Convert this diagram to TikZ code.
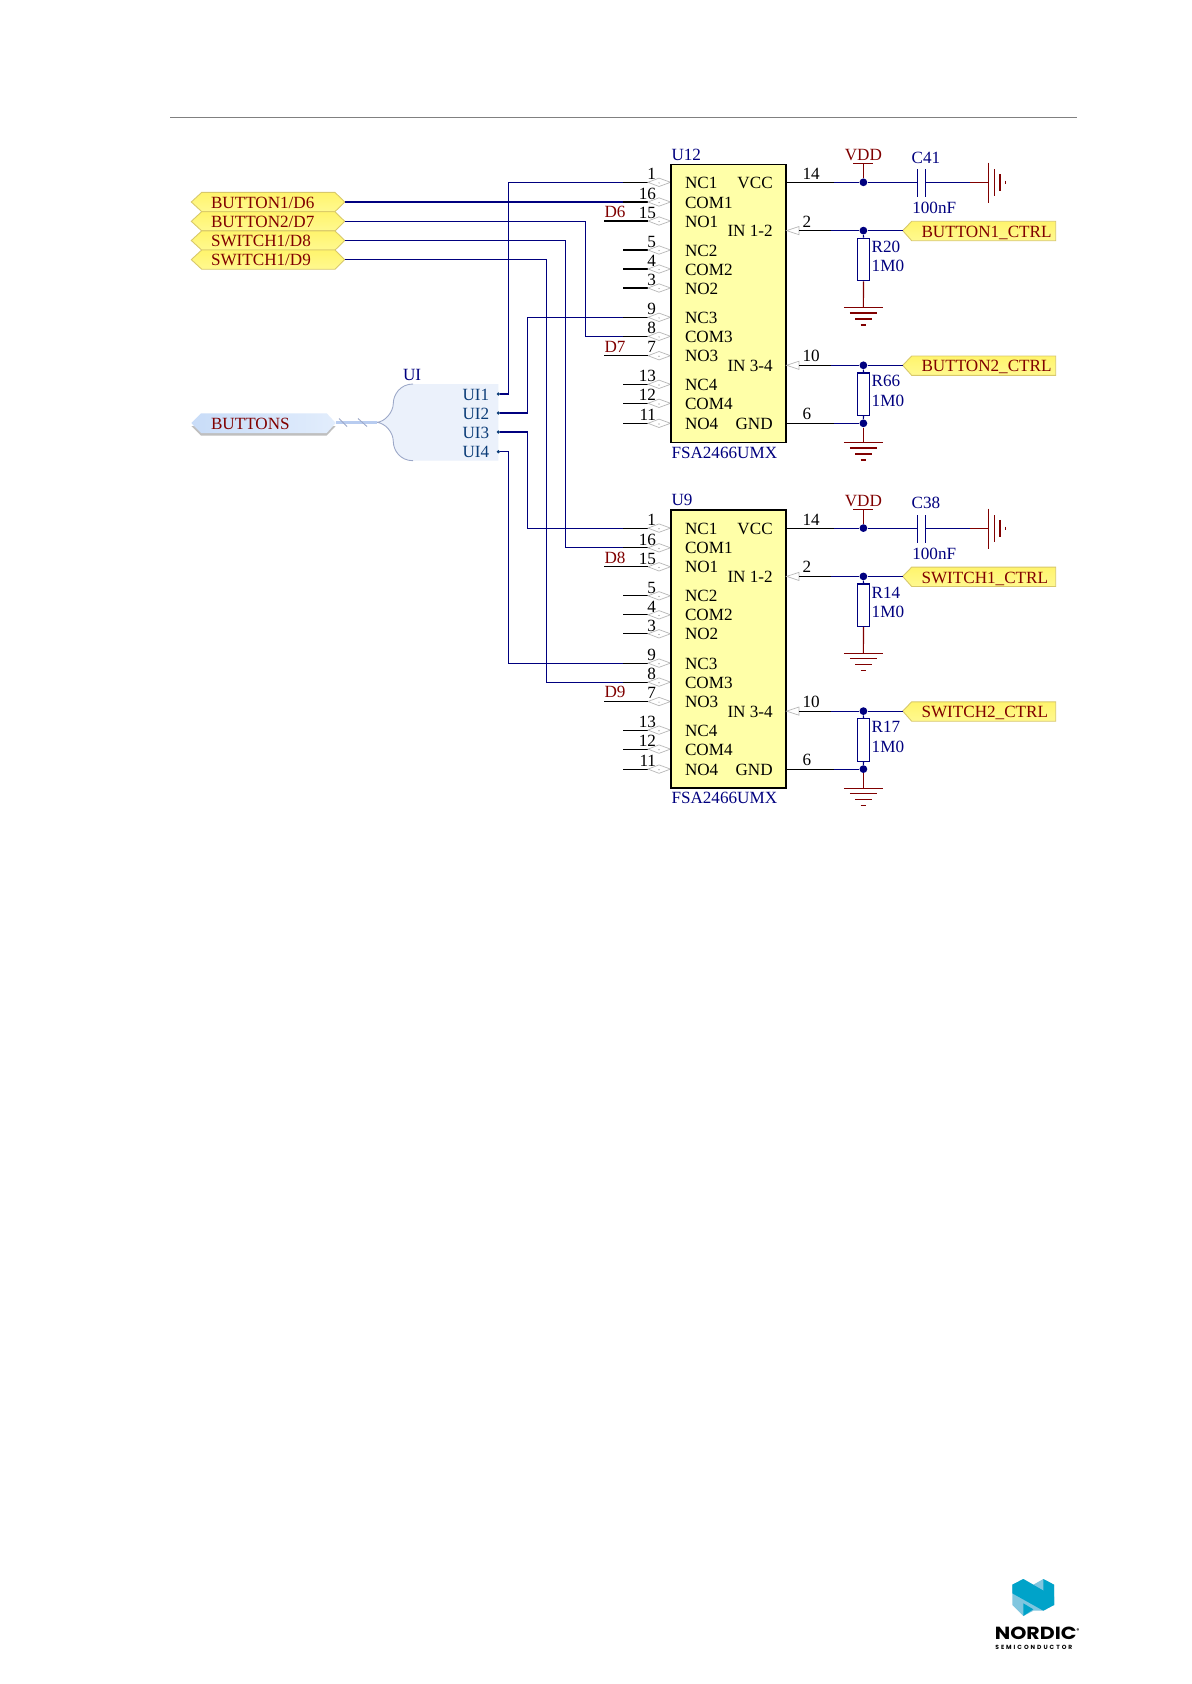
\documentclass[tikz,border=0pt]{standalone}
\usepackage{fontspec}
\setmainfont{Liberation Serif}
\newfontfamily\logofont{Poppins}
\usetikzlibrary{calc}
\definecolor{wirenavy}{HTML}{00007F}
\definecolor{darkred}{HTML}{800000}
\definecolor{chipfill}{HTML}{FFFFA8}
\definecolor{portedge}{HTML}{D8C86A}
\definecolor{porttop}{HTML}{FFF46C}
\definecolor{portbot}{HTML}{FFF990}
\definecolor{pingrey}{HTML}{B8B8B8}
\definecolor{sheettext}{HTML}{0B3C78}
\definecolor{sheetfill}{HTML}{EBF1FB}
\definecolor{sheetedge}{HTML}{9CA8C8}
\definecolor{busblue}{HTML}{B8CCF0}
\definecolor{portblueA}{HTML}{C8DCF8}
\definecolor{portblueB}{HTML}{E2EDFC}
\definecolor{logodark}{HTML}{00A3C9}
\definecolor{logolight}{HTML}{80C6DF}
\tikzset{
  x=0.02cm,y=-0.02cm,
  wire/.style={draw=wirenavy,line width=0.65pt},
  stub/.style={draw=black,line width=0.65pt},
  redline/.style={draw=darkred,line width=0.65pt},
  txt/.style={inner sep=0pt,outer sep=0pt,anchor=base west,font=\fontsize{9.75pt}{11pt}\selectfont},
  txtr/.style={txt,anchor=base east},
  pinno/.style={txt,anchor=base east,text=black},
  desig/.style={txt,text=wirenavy},
  redtxt/.style={txt,text=darkred},
  chipbox/.style={draw=black,fill=chipfill,line width=0.8pt,minimum width=2.3cm,minimum height=5.56cm,inner sep=0pt},
  junction/.style={circle,fill=wirenavy,minimum size=0.155cm,inner sep=0pt},
  resbox/.style={draw=wirenavy,fill=white,line width=0.7pt,minimum width=0.25cm,minimum height=0.85cm,inner sep=0pt},
  portshape/.style={draw=portedge,line width=0.5pt,top color=porttop,bottom color=portbot},
  pinmark/.style={draw=pingrey,line width=0.4pt,fill=white},
}
% ground: name, x, y
\newcommand{\gndsym}[3]{%
  \coordinate (#1) at (#2,#3);
  \draw[redline] ($(#1)+(-19.5,0)$) -- ($(#1)+(19.5,0)$);
  \draw[redline] ($(#1)+(-13.5,5.7)$) -- ($(#1)+(13.5,5.7)$);
  \draw[redline] ($(#1)+(-8.2,11.7)$) -- ($(#1)+(8.2,11.7)$);
  \draw[redline] ($(#1)+(-2.7,17.7)$) -- ($(#1)+(2.7,17.7)$);
}
% left yellow port: name, y, text
\newcommand{\leftport}[3]{%
  \path[portshape] (191.3,#2) -- (201.7,#2-9.6) -- (335,#2-9.6) -- (344.7,#2) -- (335,#2+9.6) -- (201.7,#2+9.6) -- cycle;
  \coordinate (#1) at (344.7,#2);
  \node[redtxt] (#1-t) at (211,#2+6) {#3};
}
% right yellow port: name, y, text
\newcommand{\ctrlport}[3]{%
  \path[portshape] (902.7,#2) -- (911.7,#2-9.3) -- (1055.7,#2-9.3) -- (1055.7,#2+10.1) -- (911.7,#2+10.1) -- cycle;
  \coordinate (#1) at (902.7,#2);
  \node[redtxt] (#1-t) at (921.5,#2+6.6) {#3};
}
% chip: 1 name, 2 offset, 3 D-label A, 4 D-label B, 5 cap, 6 res A, 7 res B, 8 port A, 9 port B
\newcommand{\chip}[9]{%
\begin{scope}[shift={(0,#2)}]
  \foreach \pn/\pt/\py in {1/NC1/182.3,16/COM1/202,15/NO1/221,5/NC2/250,4/COM2/269,3/NO2/288,9/NC3/317.3,8/COM3/336.3,7/NO3/355.7,13/NC4/384.3,12/COM4/403.3,11/NO4/423.3}{
    \coordinate (#1-s\pn) at (648,\py);
    \coordinate (#1-b\pn) at (623,\py);
    \draw[stub] (#1-b\pn) -- (#1-s\pn);
    \path[pinmark] (648,\py) -- (659,\py-4.2) -- (670.5,\py) -- (659,\py+4.2) -- cycle;
    \fill[gray] (659,\py+0.6) circle[radius=0.012cm];
    \node[pinno] (#1-n\pn) at (656,\py-2.8) {\pn};
  }
  \node[chipbox] (#1) at (728.6,303.3) {};
  \foreach \pn/\pt/\py in {1/NC1/182.3,16/COM1/202,15/NO1/221,5/NC2/250,4/COM2/269,3/NO2/288,9/NC3/317.3,8/COM3/336.3,7/NO3/355.7,13/NC4/384.3,12/COM4/403.3,11/NO4/423.3}{
    \node[txt] (#1-l\pn) at (685,\py+6) {\pt};
  }
  \node[txtr] (#1-vcc) at (772.7,188.3) {VCC};
  \node[txtr] (#1-in12) at (772.7,236.3) {IN 1-2};
  \node[txtr] (#1-in34) at (772.7,371.3) {IN 3-4};
  \node[txtr] (#1-gnd) at (772.7,429.3) {GND};
  \node[desig] (#1-name) at (671.5,160) {#1};
  \node[desig] (#1-part) at (671.5,458) {FSA2466UMX};
  % net labels
  \coordinate (#1-da) at (604,221);
  \coordinate (#1-db) at (604,355.7);
  \draw[stub] (#1-da) -- (#1-s15);
  \draw[stub] (#1-db) -- (#1-s7);
  \node[redtxt] (#1-dat) at (604.5,217.3) {#3};
  \node[redtxt] (#1-dbt) at (604.5,352) {#4};
  % right side pins
  \coordinate (#1-r14) at (786.3,182.3);
  \coordinate (#1-r6) at (786.3,423.3);
  \coordinate (#1-r2) at (799,230.6);
  \coordinate (#1-r10) at (799,365.3);
  \path[pinmark] (786.6,230.6) -- (799,226.5) -- (799,234.7) -- cycle;
  \path[pinmark] (786.6,365.3) -- (799,361.2) -- (799,369.4) -- cycle;
  \node[pinno,anchor=base west] (#1-n14) at (802.5,179.3) {14};
  \node[pinno,anchor=base west] (#1-n2) at (802.5,227) {2};
  \node[pinno,anchor=base west] (#1-n10) at (802.5,361.8) {10};
  \node[pinno,anchor=base west] (#1-n6) at (802.5,419.3) {6};
  % VDD and capacitor
  \node[junction] (#1-jv) at (863.4,182.3) {};
  \coordinate (#1-vddbar) at (863.4,163.3);
  \draw[redline] (853.4,163.3) -- (873.4,163.3);
  \draw[redline] (#1-vddbar) -- (#1-jv);
  \node[redtxt,anchor=base] (#1-vdd) at (863.4,160.3) {VDD};
  \coordinate (#1-c1) at (917.3,182.3);
  \coordinate (#1-c2) at (925.3,182.3);
  \coordinate (#1-e1) at (970,182.3);
  \coordinate (#1-e2) at (988.3,182.3);
  \draw[wire] (#1-r14) -- (#1-jv);
  \draw[stub] (#1-r14) -- ++(48,0);
  \draw[wire] (#1-jv) -- (#1-c1);
  \draw[wire,line width=0.8pt] (917.3,169.3) -- (917.3,196.7);
  \draw[wire,line width=0.8pt] (925.3,169.3) -- (925.3,196.7);
  \draw[wire] (#1-c2) -- (#1-e1);
  \draw[redline] (#1-e1) -- (#1-e2);
  \draw[redline] (988.3,162.7) -- (988.3,202.7);
  \draw[redline] (994.3,169.3) -- (994.3,196);
  \draw[redline] (1000,174) -- (1000,190.7);
  \draw[redline] (1005.7,180.7) -- (1005.7,184.3);
  \node[desig] (#1-cn) at (911.7,163) {#5};
  \node[desig] (#1-cv) at (912.3,213.3) {100nF};
  % control A
  \node[junction] (#1-ja) at (863.4,230.6) {};
  \ctrlport{#1-pa}{230.6}{#8}
  \draw[wire] (#1-r2) -- (#1-ja) -- (#1-pa);
  \draw[stub] (#1-r2) -- ++(32,0);
  \node[resbox] (#1-ra) at (863.5,259.5) {};
  \draw[wire] (#1-ja) -- (#1-ra);
  \node[desig] (#1-ran) at (871.7,252.3) {#6};
  \node[desig] (#1-rav) at (871.7,271.7) {1M0};
  \gndsym{#1-ga}{863.4}{307.3}
  \draw[redline] (#1-ra) -- (#1-ga);
  % control B
  \node[junction] (#1-jb) at (863.4,365.3) {};
  \ctrlport{#1-pb}{365.3}{#9}
  \draw[wire] (#1-r10) -- (#1-jb) -- (#1-pb);
  \draw[stub] (#1-r10) -- ++(32,0);
  \node[resbox] (#1-rb) at (863.5,394.2) {};
  \draw[wire] (#1-jb) -- (#1-rb);
  \node[desig] (#1-rbn) at (871.7,386.8) {#7};
  \node[desig] (#1-rbv) at (871.7,406.2) {1M0};
  \node[junction] (#1-jg) at (863.4,423.3) {};
  \draw[wire] (#1-rb) -- (#1-jg);
  \draw[wire] (#1-r6) -- (#1-jg);
  \draw[stub] (#1-r6) -- ++(48,0);
  \gndsym{#1-gb}{863.4}{442.3}
  \draw[redline] (#1-jg) -- (#1-gb);
\end{scope}}

\begin{document}
\begin{tikzpicture}
\useasboundingbox (0,0) rectangle (1191,1684);
\fill[white] (0,0) rectangle (1191,1684);
% header rule
\draw[draw=black!50,line width=0.6pt] (170,117.3) -- (1076.7,117.3);

\coordinate (busA) at (585.3,280);
\coordinate (busB) at (565.3,400);
\coordinate (busC) at (546.3,400);
\coordinate (busD) at (508.3,300);
\coordinate (busE) at (527.3,370);
\coordinate (busF) at (527.3,480);
\coordinate (busG) at (508.3,560);

\leftport{pb1}{202}{BUTTON1/D6}
\leftport{pb2}{221.3}{BUTTON2/D7}
\leftport{ps1}{240.5}{SWITCH1/D8}
\leftport{ps2}{259.6}{SWITCH1/D9}

% sheet symbol
\path[fill=sheetfill,draw=none] (413,384) -- (498.3,384) -- (498.3,460.7) -- (413,460.7)
  .. controls (400,460.7) and (393.3,450) .. (393.3,441.5)
  .. controls (393.3,432) and (385,423) .. (376.7,422.3)
  .. controls (385,422) and (393.3,412) .. (393.3,403.3)
  .. controls (393.3,395) and (400,384) .. (413,384);
\draw[draw=sheetedge,line width=0.5pt] (413,384)
  .. controls (400,384) and (393.3,395) .. (393.3,403.3)
  .. controls (393.3,412) and (385,422) .. (376.7,422.3)
  .. controls (385,423) and (393.3,432) .. (393.3,441.5)
  .. controls (393.3,450) and (400,460.7) .. (413,460.7);
\coordinate (busport) at (335.7,422.7);
\coordinate (busend) at (376.7,422.7);
\draw[draw=busblue,line width=1.8pt] (busport) -- (busend);
\draw[draw=sheetedge,line width=0.5pt] (339,418.5) -- (347,426.5);
\draw[draw=sheetedge,line width=0.5pt] (358,418.5) -- (367,426.5);
\path[fill=black!25] (191.3,426) -- (201,435.5) -- (326.7,435.5) -- (335.7,426) -- cycle;
\path[left color=portblueA,right color=portblueB] (191.3,423) -- (201,413.3) -- (326.7,413.3) -- (335.7,423) -- (326.7,433) -- (201,433) -- cycle;
\node[redtxt] (buttons) at (211,429) {BUTTONS};
\node[desig] (uiname) at (403,380.7) {UI};
\foreach \n/\yy in {1/394,2/413,3/432,4/451.7}{
  \node[txt,text=sheettext] (ui\n-t) at (462.5,\yy+6) {UI\n};
  \node[circle,fill=sheettext,minimum size=0.07cm,inner sep=0pt] (ui\n) at (498.3,\yy) {};
}

\chip{U12}{0}{D6}{D7}{C41}{R20}{R66}{BUTTON1\_CTRL}{BUTTON2\_CTRL}
\chip{U9}{345.8}{D8}{D9}{C38}{R14}{R17}{SWITCH1\_CTRL}{SWITCH2\_CTRL}

% signal wires
\draw[wire] (pb1) -- (U12-b16);
\draw[wire] (pb2) -| (busA) |- (U12-b8);
\draw[wire] (ps1) -| (busB) |- (U9-b16);
\draw[wire] (ps2) -| (busC) |- (U9-b8);
\draw[wire] (ui1) -| (busD) |- (U12-b1);
\draw[wire] (ui2) -| (busE) |- (U12-b9);
\draw[wire] (ui3) -| (busF) |- (U9-b1);
\draw[wire] (ui4) -| (busG) |- (U9-b9);

% logo
\begin{scope}[shift={(980,1570)},x=0.00667cm,y=-0.00667cm]
  \path[fill=logolight] (97,44) -- (130,27) -- (160,44) -- (190,27) -- (222,44) -- (222,105) -- (190,122) -- (160,122) -- (130,138) -- (97,105) -- cycle;
  \path[fill=logodark] (97,44) -- (130,27) -- (222,80) -- (222,105) -- (190,122) -- (97,70) -- cycle;
  \path[fill=logodark] (190,27) -- (222,44) -- (222,105) -- (190,88) -- cycle;
  \path[fill=logodark] (130,100) -- (160,118) -- (130,138) -- cycle;
\end{scope}
\node[inner sep=0pt,anchor=base west,font=\logofont\bfseries\fontsize{10pt}{10pt}\selectfont] (logoname) at (994.5,1639) {\scalebox{1.17}[1]{NORDIC}\raisebox{3.5pt}{\fontsize{3pt}{3pt}\selectfont ®}};
\node[inner sep=0pt,anchor=base west,font=\logofont\bfseries\fontsize{3.4pt}{4pt}\selectfont,text=black] (logosub) at (995,1649) {S\,\,E\,\,M\,\,I\,\,C\,\,O\,\,N\,\,D\,\,U\,\,C\,\,T\,\,O\,\,R};
\end{tikzpicture}
\end{document}
